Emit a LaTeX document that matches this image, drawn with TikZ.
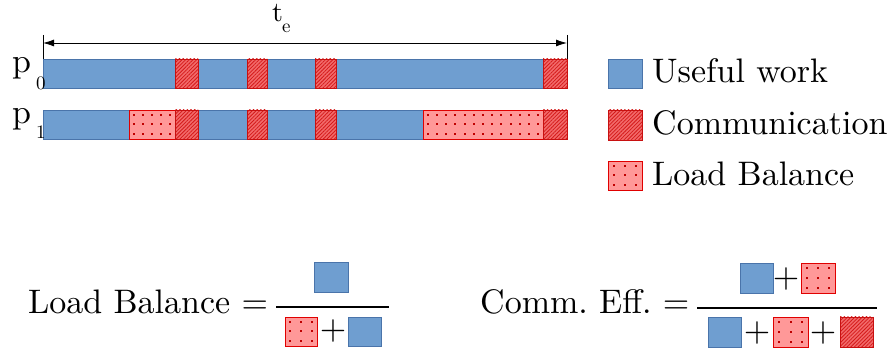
\documentclass[tikz,border=0pt]{standalone}
\usepackage{fontspec}
\setmainfont{lmroman10-regular.otf}
\usetikzlibrary{patterns.meta,arrows.meta}
\definecolor{uwfill}{HTML}{6F9ED0}
\definecolor{uwline}{HTML}{4A74AA}
\definecolor{cmfill}{HTML}{F26A6A}
\definecolor{cmhatch}{HTML}{D41A1A}
\definecolor{cmline}{HTML}{C81010}
\definecolor{lbfill}{HTML}{FF9898}
\definecolor{lbline}{HTML}{E00000}
\definecolor{lbdot}{HTML}{C00000}
\tikzset{
  uwstyle/.style={fill=uwfill,draw=uwline,line width=0.9pt},
  cmstyle/.style={fill=cmfill,draw=cmline,line width=0.9pt},
  cmpat/.style={pattern={Lines[angle=45,distance=2.6pt,line width=0.8pt]},pattern color=cmhatch},
  lbstyle/.style={fill=lbfill,draw=lbline,line width=0.9pt},
  big/.style={font=\fontsize{34}{40}\selectfont,inner sep=0pt},
  small/.style={font=\fontsize{19}{22}\selectfont,inner sep=0pt},
  fracbar/.style={line width=1.6pt},
}
\newcommand\uwrect[4]{\draw[uwstyle] (#1,#2) rectangle (#3,#4);}
\newcommand\cmrect[4]{\fill[cmfill] (#1,#2) rectangle (#3,#4);
  \fill[cmpat] (#1,#2) rectangle (#3,#4);
  \draw[cmline,line width=0.9pt] (#1,#2) rectangle (#3,#4);}
\newcommand\lbrect[6]{\draw[lbstyle] (#1,#2) rectangle (#3,#4);
  \foreach \i in {1,...,#5}{\foreach \j in {1,...,#6}{
    \fill[lbdot] ({#1+(\i-0.5)*(#3-#1)/#5-1},{#2+(\j-0.5)*(#4-#2)/#6-1}) rectangle ++(2,2);}}}
\frenchspacing
\begin{document}
\begin{tikzpicture}[x=1pt,y=-1pt]
\useasboundingbox (0,0) rectangle (891,352);
% time arrow
\coordinate (al) at (43,43);
\coordinate (ar) at (567,43);
\draw[line width=0.8pt] (43,35) -- (43,62);
\draw[line width=0.8pt] (567,35) -- (567,73);
\draw[line width=0.8pt,{Latex[length=11pt,width=7pt]}-{Latex[length=11pt,width=7pt]}] (al) -- (ar);
\node[font=\fontsize{28}{32}\selectfont,inner sep=0pt,anchor=base west] (tt) at (272,22) {t};
\node[small,anchor=base west] (te) at (282,33) {e};
% p0 bar
\uwrect{43}{59}{567}{88}
\cmrect{175}{59}{198}{88}
\cmrect{247}{59}{267}{88}
\cmrect{315}{59}{336}{88}
\cmrect{543}{59}{567}{88}
% p1 bar
\uwrect{43}{110}{567}{139}
\lbrect{129}{110}{175}{139}{5}{3}
\cmrect{175}{110}{198}{139}
\cmrect{247}{110}{267}{139}
\cmrect{315}{110}{336}{139}
\lbrect{423}{110}{543}{139}{13}{3}
\cmrect{543}{110}{567}{139}
% labels
\node[big,anchor=base west] (p0) at (12,73) {p};
\node[small,anchor=base west] (p0s) at (36,90) {0};
\node[big,anchor=base west] (p1) at (12,124) {p};
\node[small,anchor=base west] (p1s) at (36,139) {1};
% legend
\uwrect{608}{59}{642}{88}
\cmrect{608}{110}{642}{140}
\lbrect{608}{161}{642}{190}{3}{3}
\node[big,anchor=base west] (l1) at (652,83) {Useful work};
\node[big,anchor=base west] (l2) at (652,135) {Communication};
\node[big,anchor=base west] (l3) at (652,186) {Load Balance};
% formula 1
\node[big,anchor=base west] (f1) at (28,314) {Load Balance =};
\draw[fracbar] (276,307) -- (389,307);
\uwrect{314}{262}{348}{292}
\lbrect{285}{317}{317}{346}{3}{3}
\node[big] (f1p) at (333,331) {+};
\uwrect{348}{317}{381}{346}
% formula 2
\node[big,anchor=base west] (f2) at (480,314) {Comm. Eff. =};
\draw[fracbar] (697,308) -- (877,308);
\uwrect{740}{263}{773}{293}
\node[big] (f2p1) at (786,279) {+};
\lbrect{801}{263}{835}{293}{3}{3}
\uwrect{708}{317}{741}{347}
\node[big] (f2p2) at (757,333) {+};
\lbrect{773}{317}{808}{347}{3}{3}
\node[big] (f2p3) at (823,333) {+};
\cmrect{840}{317}{873}{347}
\end{tikzpicture}
\end{document}
